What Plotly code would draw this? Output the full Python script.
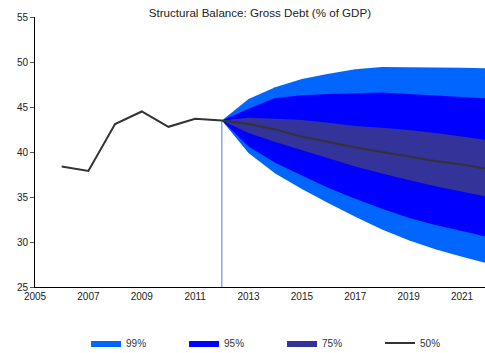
import plotly.graph_objects as go

# Historical gross debt (% of GDP)
hist_years = [2006, 2007, 2008, 2009, 2010, 2011, 2012]
hist_debt = [38.4, 37.9, 43.1, 44.5, 42.8, 43.7, 43.5]

# Forecast fan (starts from the last observed year)
fc_years = [2012, 2013, 2014, 2015, 2016, 2017, 2018, 2019, 2020, 2021, 2022]
median = [43.5, 43.1, 42.5, 41.7, 41.1, 40.5, 40.0, 39.5, 39.0, 38.6, 38.1]
p75_hi = [43.5, 43.8, 43.7, 43.55, 43.25, 42.9, 42.7, 42.45, 42.1, 41.7, 41.3]
p75_lo = [43.5, 42.1, 41.1, 40.2, 39.3, 38.4, 37.6, 36.9, 36.2, 35.6, 35.0]
p95_hi = [43.5, 44.8, 46.0, 46.3, 46.45, 46.55, 46.6, 46.45, 46.3, 46.1, 45.95]
p95_lo = [43.5, 40.6, 38.8, 37.4, 36.0, 34.8, 33.7, 32.7, 31.9, 31.2, 30.55]
p99_hi = [43.5, 45.9, 47.2, 48.1, 48.7, 49.2, 49.45, 49.45, 49.4, 49.35, 49.3]
p99_lo = [43.5, 39.9, 37.6, 35.9, 34.3, 32.8, 31.4, 30.2, 29.2, 28.35, 27.6]

x_ticks = [2005, 2007, 2009, 2011, 2013, 2015, 2017, 2019, 2021]
y_ticks = [25, 30, 35, 40, 45, 50, 55]

bands = [
    ("99%", p99_hi, p99_lo, "#0066FF"),
    ("95%", p95_hi, p95_lo, "#0000FF"),
    ("75%", p75_hi, p75_lo, "#333399"),
]

fig = go.Figure()
for name, hi, lo, color in bands:
    fig.add_trace(go.Scatter(
        x=fc_years + fc_years[::-1],
        y=hi + lo[::-1],
        fill="toself",
        fillcolor=color,
        line=dict(width=0, color=color),
        mode="lines",
        name=name,
        hoverinfo="skip",
    ))

# Observed path joined with the central projection
line_x = hist_years + fc_years[1:]
line_y = hist_debt + median[1:]
fig.add_trace(go.Scatter(
    x=line_x, y=line_y, mode="lines",
    line=dict(color="#333333", width=2),
    name="50%",
))

# Marker for the start of the projection
fig.add_shape(type="line", x0=fc_years[0], x1=fc_years[0],
              y0=y_ticks[0], y1=hist_debt[-1],
              line=dict(color="#5a78e8", width=1), layer="below")

fig.update_layout(
    width=485, height=353,
    margin=dict(l=35, r=0, t=17, b=66),
    paper_bgcolor="white", plot_bgcolor="white",
    font=dict(family="Liberation Sans, Arial, sans-serif", size=10, color="#222222"),
    title=dict(text="Structural Balance: Gross Debt (% of GDP)",
               x=0.536, xanchor="center", y=1 - 13 / 353, yanchor="middle",
               yref="container", font=dict(size=11.6, color="#222222")),
    showlegend=True,
    legend=dict(orientation="h", x=0.549, xanchor="center",
                yref="container", y=10 / 353, yanchor="middle",
                entrywidth=53, entrywidthmode="pixels", itemwidth=30,
                font=dict(size=10, color="#333333"), traceorder="normal"),
    xaxis=dict(range=[2005, 2021.86], tickvals=x_ticks, showgrid=False,
               zeroline=False, showline=True, linecolor="black", linewidth=1,
               ticks="", fixedrange=True, tickfont=dict(size=10)),
    yaxis=dict(range=[25, 55], tickvals=y_ticks, showgrid=False,
               zeroline=False, showline=True, linecolor="black", linewidth=1,
               ticks="outside", ticklen=4, tickcolor="#555555", fixedrange=True,
               tickfont=dict(size=10)),
)

fig.write_html("out.html")
